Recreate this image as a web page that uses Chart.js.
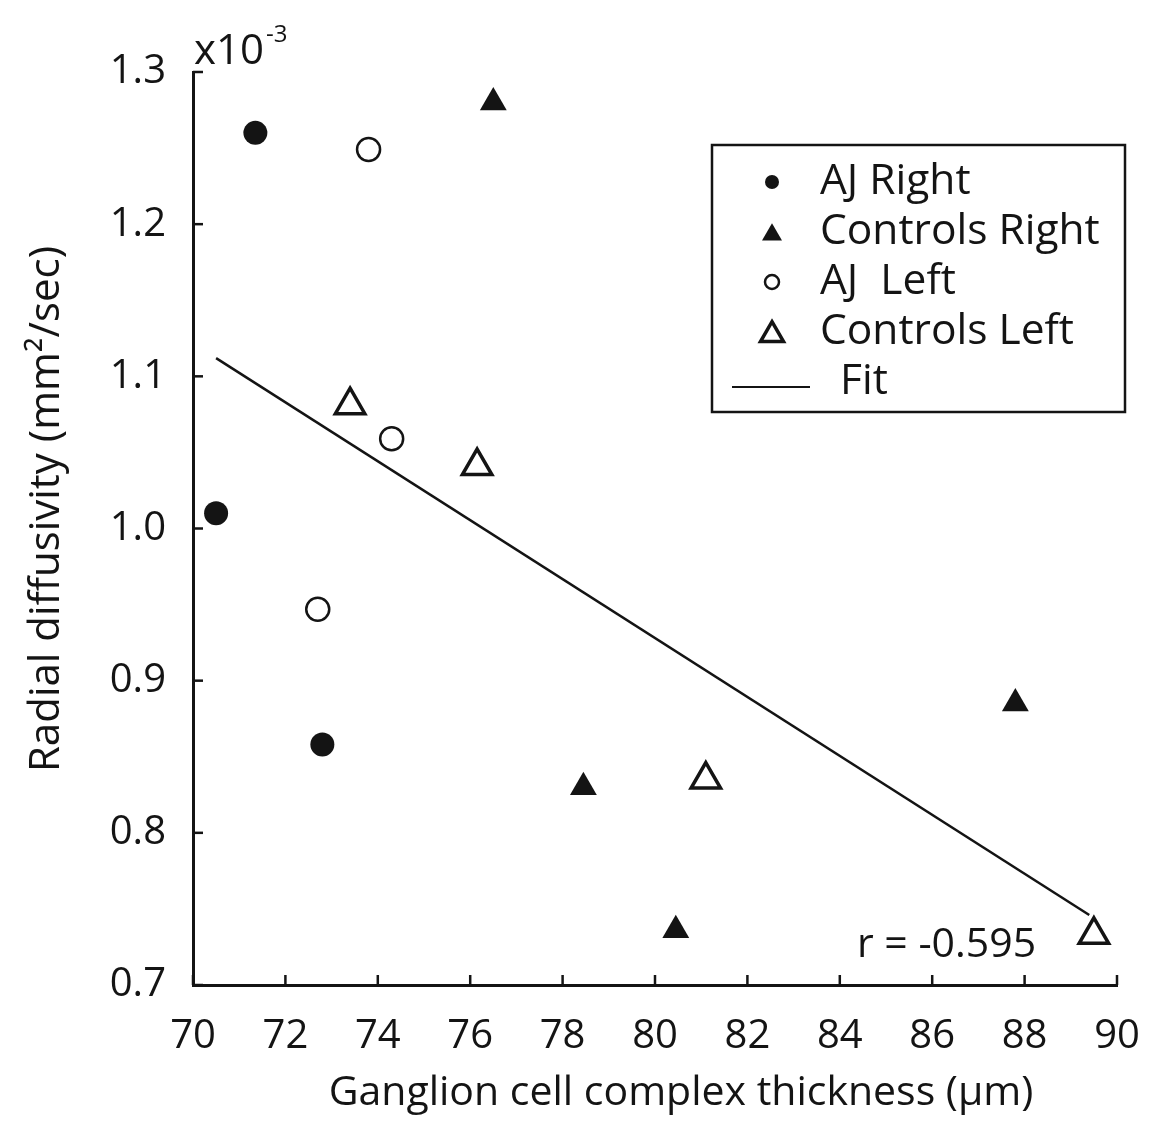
<!DOCTYPE html>
<html lang="en">
<head>
    <meta charset="UTF-8">
    <title>Radial diffusivity vs GCC thickness</title>
    <style>
        body { margin: 0; background: #fff; }
        #wrap { width: 1150px; height: 1147px; }
    </style>
</head>
<body>
    <div id="wrap"><canvas id="chart" width="1150" height="1147"></canvas></div>

    <script src="https://cdn.jsdelivr.net/npm/chart.js"></script>
    <script>
        // values (y in units of 10^-3 mm²/sec)
        const ajRightX = [71.35, 70.5, 72.8];
        const ajRightY = [1.26, 1.01, 0.858];
        const ctrlRightX = [76.5, 78.45, 80.45, 87.8];
        const ctrlRightY = [1.28, 0.83, 0.736, 0.885];
        const ajLeftX = [73.8, 74.3, 72.7];
        const ajLeftY = [1.249, 1.059, 0.947];
        const ctrlLeftX = [73.4, 76.15, 81.1, 89.5];
        const ctrlLeftY = [1.081, 1.041, 0.835, 0.733];
        const fitX = [70.5, 89.4];
        const fitY = [1.112, 0.746];
        const xTicks = [70, 72, 74, 76, 78, 80, 82, 84, 86, 88, 90];
        const yTicks = [0.7, 0.8, 0.9, 1.0, 1.1, 1.2, 1.3];
        const xTitle = 'Ganglion cell complex thickness (μm)';
        const yTitle = 'Radial diffusivity (mm²/sec)';
        const rText = 'r = -0.595';

        const ink = '#141414';
        const font = "'Open Sans', sans-serif";

        function pts(xs, ys) {
            return xs.map((x, i) => ({ x: x, y: ys[i] }));
        }

        const legendItems = [
            { label: 'AJ Right', kind: 'dot' },
            { label: 'Controls Right', kind: 'tri' },
            { label: 'AJ  Left', kind: 'ring' },
            { label: 'Controls Left', kind: 'otri' },
            { label: 'Fit', kind: 'line' }
        ];

        function triangle(ctx, x, y, w) {
            const h = w * 0.866;
            ctx.beginPath();
            ctx.moveTo(x, y - h * 0.62);
            ctx.lineTo(x + w / 2, y + h * 0.38);
            ctx.lineTo(x - w / 2, y + h * 0.38);
            ctx.closePath();
        }

        const extras = {
            id: 'extras',
            afterDraw(chart) {
                const ctx = chart.ctx;
                const xs = chart.scales.x, ys = chart.scales.y;
                const area = chart.chartArea;
                ctx.save();
                ctx.strokeStyle = ink;
                ctx.fillStyle = ink;
                ctx.lineWidth = 2.5;

                // inward tick marks
                xTicks.forEach(v => {
                    const px = xs.getPixelForValue(v);
                    ctx.beginPath();
                    ctx.moveTo(px, area.bottom);
                    ctx.lineTo(px, area.bottom - 10);
                    ctx.stroke();
                });
                yTicks.forEach(v => {
                    const py = ys.getPixelForValue(v);
                    ctx.beginPath();
                    ctx.moveTo(area.left, py);
                    ctx.lineTo(area.left + 10, py);
                    ctx.stroke();
                });

                // axis titles (slightly off-centre in the original)
                ctx.textAlign = 'center';
                ctx.textBaseline = 'middle';
                ctx.font = '41px ' + font;
                ctx.fillText(xTitle, 681, 1093);
                ctx.save();
                ctx.translate(47, 509);
                ctx.rotate(-Math.PI / 2);
                ctx.font = '42px ' + font;
                ctx.fillText(yTitle, 0, 0);
                ctx.restore();

                // exponent label
                ctx.textBaseline = 'alphabetic';
                ctx.textAlign = 'left';
                ctx.font = '42px ' + font;
                ctx.fillText('x10', area.left + 1, area.top - 8);
                const w10 = ctx.measureText('x10').width;
                ctx.font = '24px ' + font;
                ctx.fillText('-3', area.left + 3 + w10, area.top - 30);

                // correlation text
                ctx.font = '41px ' + font;
                ctx.textAlign = 'right';
                ctx.fillText(rText, xs.getPixelForValue(88.25), ys.getPixelForValue(0.7) - 28);

                // legend box
                const bx = 712, by = 145, bw = 413, bh = 267;
                ctx.lineWidth = 2.5;
                ctx.strokeRect(bx, by, bw, bh);
                ctx.font = '42.5px ' + font;
                ctx.textAlign = 'left';
                ctx.textBaseline = 'middle';
                legendItems.forEach((it, i) => {
                    const cy = by + 37 + i * 50;
                    const mx = bx + 60;
                    ctx.lineWidth = 2.5;
                    if (it.kind === 'dot') {
                        ctx.beginPath(); ctx.arc(mx, cy, 7, 0, Math.PI * 2); ctx.fill();
                    } else if (it.kind === 'ring') {
                        ctx.beginPath(); ctx.arc(mx, cy, 7, 0, Math.PI * 2); ctx.stroke();
                    } else if (it.kind === 'tri') {
                        triangle(ctx, mx, cy + 2, 20); ctx.fill();
                    } else if (it.kind === 'otri') {
                        ctx.lineWidth = 3.5;
                        triangle(ctx, mx, cy + 2, 23); ctx.stroke();
                    } else {
                        ctx.lineWidth = 2;
                        ctx.beginPath(); ctx.moveTo(bx + 20, cy + 5); ctx.lineTo(bx + 98, cy + 5); ctx.stroke();
                    }
                    ctx.fillText(it.label, it.kind === 'line' ? bx + 128 : bx + 108, cy);
                });
                ctx.restore();
            }
        };

        new Chart(document.getElementById('chart'), {
            type: 'scatter',
            data: {
                datasets: [
                    {
                        label: 'Fit', data: pts(fitX, fitY), showLine: true,
                        borderColor: ink, borderWidth: 2.5, pointRadius: 0, fill: false
                    },
                    {
                        label: 'AJ Right', data: pts(ajRightX, ajRightY), pointStyle: 'circle',
                        pointRadius: 12, backgroundColor: ink, borderColor: ink, borderWidth: 0
                    },
                    {
                        label: 'Controls Right', data: pts(ctrlRightX, ctrlRightY), pointStyle: 'triangle',
                        pointRadius: 15.5, backgroundColor: ink, borderColor: ink, borderWidth: 0
                    },
                    {
                        label: 'AJ Left', data: pts(ajLeftX, ajLeftY), pointStyle: 'circle',
                        pointRadius: 11.5, backgroundColor: '#fff', borderColor: ink, borderWidth: 2.5
                    },
                    {
                        label: 'Controls Left', data: pts(ctrlLeftX, ctrlLeftY), pointStyle: 'triangle',
                        pointRadius: 17, backgroundColor: '#fff', borderColor: ink, borderWidth: 3.5
                    }
                ]
            },
            options: {
                responsive: false,
                animation: false,
                layout: { padding: { top: 72, right: 33, left: 0, bottom: 0 } },
                plugins: { legend: { display: false }, tooltip: { enabled: false } },
                scales: {
                    x: {
                        type: 'linear', min: 70, max: 90,
                        afterBuildTicks: s => { s.ticks = xTicks.map(v => ({ value: v })); },
                        afterFit: s => { s.height = 162; s.paddingLeft = 0; s.paddingRight = 0; },
                        grid: { display: false, drawTicks: false },
                        border: { display: true, color: ink, width: 3 },
                        ticks: { color: ink, padding: 28, font: { family: font, size: 40 } }
                    },
                    y: {
                        type: 'linear', min: 0.7, max: 1.3,
                        afterBuildTicks: s => { s.ticks = yTicks.map(v => ({ value: v })); },
                        afterFit: s => { s.width = 193; s.paddingTop = 0; s.paddingBottom = 0; },
                        grid: { display: false, drawTicks: false },
                        border: { display: true, color: ink, width: 3 },
                        ticks: { color: ink, padding: 27, font: { family: font, size: 40 }, callback: v => v.toFixed(1) }
                    }
                }
            },
            plugins: [extras]
        });
    </script>
</body>
</html>
